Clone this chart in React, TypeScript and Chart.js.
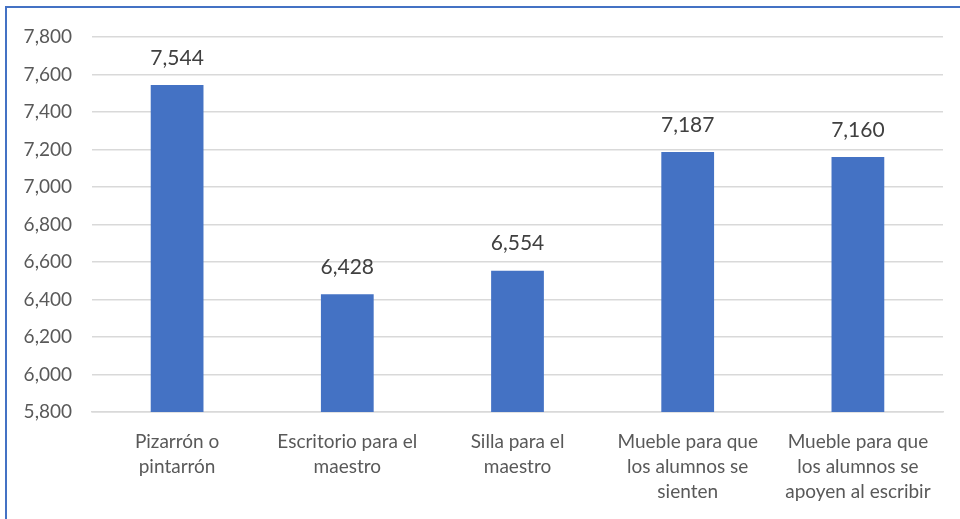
import React, { useEffect, useRef } from "react";
import { Chart, registerables } from "chart.js";

Chart.register(...registerables);

const categories: string[][] = [
  ["Pizarrón o", "pintarrón"],
  ["Escritorio para el", "maestro"],
  ["Silla para el", "maestro"],
  ["Mueble para que", "los alumnos se", "sienten"],
  ["Mueble para que", "los alumnos se", "apoyen al escribir"],
];
const values: number[] = [7544, 6428, 6554, 7187, 7160];
const yMin = 5800;
const yMax = 7800;
const yStep = 200;

const FONT = "Lato, 'Open Sans', sans-serif";

const fmt = (v: number) => v.toLocaleString("en-US");

const dataLabels = {
  id: "dataLabels",
  afterDatasetsDraw(chart: any) {
    const ctx = chart.ctx;
    const meta = chart.getDatasetMeta(0);
    ctx.save();
    ctx.fillStyle = "#404040";
    ctx.font = `21px ${FONT}`;
    ctx.textAlign = "center";
    ctx.textBaseline = "middle";
    meta.data.forEach((bar: any, i: number) => {
      ctx.fillText(fmt(values[i]), bar.x, bar.y - 27);
    });
    ctx.restore();
  },
};

export default function App() {
  const ref = useRef<HTMLCanvasElement>(null);
  useEffect(() => {
    if (!ref.current) return;
    const chart = new Chart(ref.current, {
      type: "bar",
      data: {
        labels: categories,
        datasets: [
          {
            data: values,
            backgroundColor: "#4472C4",
            categoryPercentage: 1,
            barPercentage: 0.31,
          },
        ],
      },
      options: {
        animation: false,
        responsive: false,
        maintainAspectRatio: false,
        layout: { padding: { top: 37, right: 17, left: 0, bottom: 0 } },
        plugins: { legend: { display: false }, tooltip: { enabled: false } },
        scales: {
          x: {
            grid: { display: false },
            border: { display: true, color: "#D9D9D9", width: 1.5 },
            ticks: {
              color: "#595959",
              font: { family: FONT, size: 19, lineHeight: 1.32 },
              padding: 9,
              maxRotation: 0,
              autoSkip: false,
            },
            afterFit: (s: any) => {
              s.height = 107;
            },
          },
          y: {
            min: yMin,
            max: yMax,
            ticks: {
              stepSize: yStep,
              color: "#595959",
              font: { family: FONT, size: 19 },
              padding: 20,
              callback: (v: any) => fmt(Number(v)),
            },
            grid: { color: "#D9D9D9", lineWidth: 1.5, drawTicks: false },
            border: { display: false },
            afterFit: (s: any) => {
              s.width = 92;
            },
          },
        },
      },
      plugins: [dataLabels],
    });
    return () => chart.destroy();
  }, []);
  return (
    <div style={{ position: "fixed", left: 0, top: 0, width: 960, height: 519, background: "#fff", overflow: "hidden" }}>
      <div
        style={{
          position: "absolute",
          left: 5,
          top: 6,
          width: 1000,
          height: 1000,
          border: "2px solid #4472C4",
          boxSizing: "border-box",
        }}
      />
      <canvas ref={ref} width={960} height={519} style={{ position: "absolute", left: 0, top: 0 }} />
    </div>
  );
}
